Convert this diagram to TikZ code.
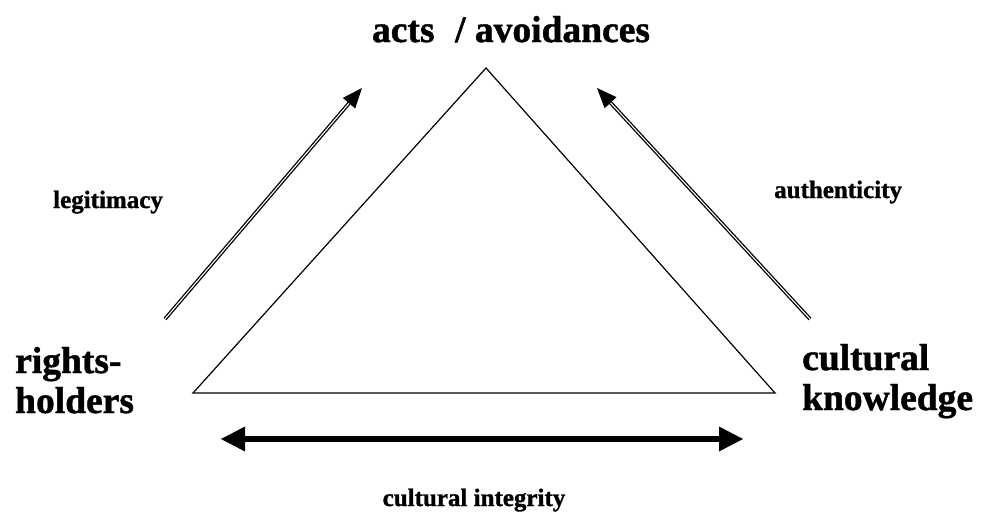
\documentclass[tikz,border=0pt]{standalone}
\usepackage{fontspec}
\setmainfont{Liberation Serif}
\newfontfamily\heavyserif{Liberation Serif Bold}[FakeBold=1.2]
\usetikzlibrary{arrows.meta}
\begin{document}
\begin{tikzpicture}[x=1pt,y=-1pt,
  biglabel/.style={font=\heavyserif\fontsize{37.5}{40}\selectfont, inner sep=0pt},
  smalllabel/.style={font=\heavyserif\fontsize{25}{28}\selectfont, inner sep=0pt},
  relation/.style={line width=1.3pt, double, double distance=1.1pt,
    -{Triangle[length=20pt,width=16pt]}},
  integrity/.style={line width=6.5pt, {Triangle[length=24pt,width=25pt,line width=0pt]}-{Triangle[length=24pt,width=25pt,line width=0pt]}}]
\useasboundingbox (0,0) rectangle (984,514);

% the triangle
\coordinate (apex) at (486,68);
\coordinate (bl) at (193,393);
\coordinate (br) at (775,393);
\draw[line width=1.2pt, line join=miter] (apex) -- (bl) -- (br) -- cycle;

% corner labels (base anchor sits on the last line)
\node[biglabel, anchor=base] (acts) at (511,42) {acts\hspace{0.55em}/ avoidances};
\node[biglabel, anchor=base west, align=left] (rights) at (15,413) {\fontsize{37.5}{38}\selectfont rights-\\holders};
\node[biglabel, anchor=base west, align=left] (know) at (802,410) {\fontsize{37.5}{42}\selectfont cultural\\knowledge};

% relation labels
\node[smalllabel, anchor=base west] (legit) at (53,208) {legitimacy};
\node[smalllabel, anchor=base west] (auth) at (774,198) {authenticity};
\node[smalllabel, anchor=base] (integ) at (474,506) {cultural integrity};

% relation arrows
\coordinate (ls) at (165,319);
\coordinate (le) at (362,88);
\coordinate (rs) at (810,319);
\coordinate (re) at (597,88);
\draw[relation] (ls) -- (le);
\draw[relation] (rs) -- (re);

\coordinate (il) at (221,439);
\coordinate (ir) at (743,439);
\draw[integrity] (il) -- (ir);
\end{tikzpicture}
\end{document}
